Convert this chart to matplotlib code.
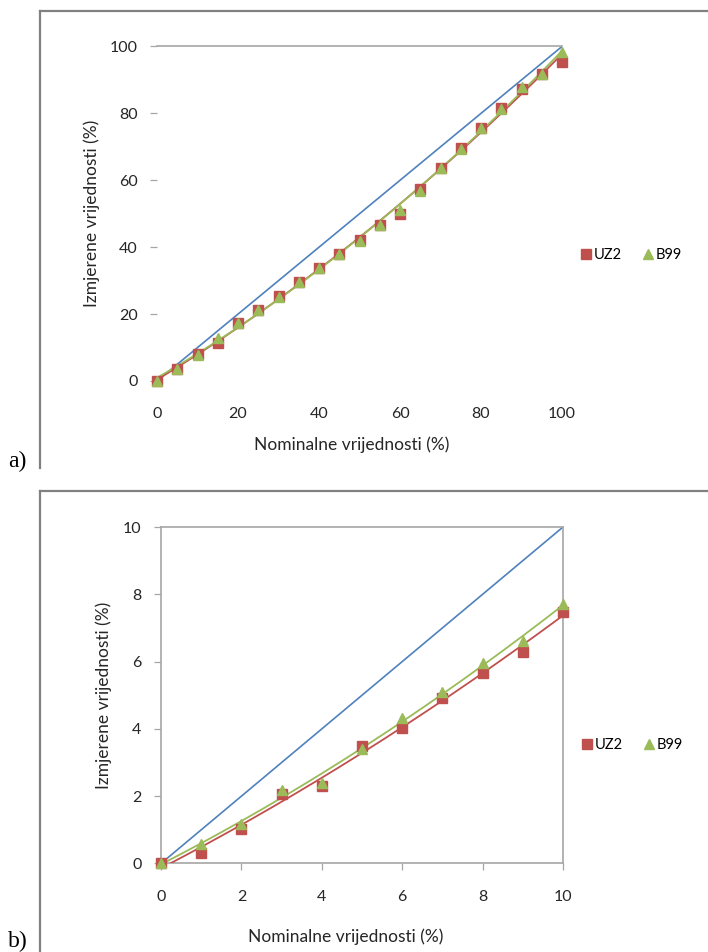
import numpy as np
import matplotlib
matplotlib.use("Agg")
import matplotlib.pyplot as plt
from matplotlib.lines import Line2D

# Measurements over the full range (0-100 %)
nominal_full = [0, 5, 10, 15, 20, 25, 30, 35, 40, 45, 50, 55, 60, 65, 70, 75, 80, 85, 90, 95, 100]
uz2_full = [0.0, 3.5, 8.0, 11.4, 17.4, 21.1, 25.3, 29.6, 33.8, 37.9, 42.0, 46.5, 49.9, 57.4, 63.8, 69.5, 75.7, 81.7, 87.4, 91.9, 95.3]
b99_full = [0.0, 3.6, 7.9, 13.0, 17.3, 21.2, 25.2, 29.5, 33.7, 38.0, 41.8, 46.6, 51.2, 56.8, 63.7, 69.3, 75.5, 81.3, 87.8, 91.7, 98.3]

# Measurements over the low range (0-10 %)
nominal_low = [0, 1, 2, 3, 4, 5, 6, 7, 8, 9, 10]
uz2_low = [0.0, 0.32, 1.03, 2.05, 2.30, 3.50, 4.03, 4.92, 5.66, 6.30, 7.47]
b99_low = [0.0, 0.59, 1.18, 2.19, 2.40, 3.41, 4.32, 5.09, 5.96, 6.61, 7.72]

full_ticks = [0, 20, 40, 60, 80, 100]
low_ticks = [0, 2, 4, 6, 8, 10]

series_labels = ["UZ2", "B99"]
x_label = "Nominalne vrijednosti (%)"
y_label = "Izmjerene vrijednosti (%)"

BLUE = "#4F81BD"
RED = "#C0504D"
GREEN = "#9BBB59"
AXIS_GRAY = "#A6A6A6"
FRAME_GRAY = "#808080"
TEXT = "#262626"

plt.rcParams["font.family"] = ["Lato", "DejaVu Sans"]

fig = plt.figure(figsize=(7.08, 9.52), dpi=100)


def trend(x, y, deg=2):
    c = np.polyfit(x, y, deg)
    xs = np.linspace(min(x), max(x), 200)
    return xs, np.polyval(c, xs)


def draw_panel(ax, x, uz2, b99, ticks, boxed, legend_y, xpad, ypad, xlabel_x):
    lo, hi = ticks[0], ticks[-1]
    # 1:1 reference line
    ax.plot([lo, hi], [lo, hi], color=BLUE, lw=1.2, zorder=2)
    # fitted trend lines
    xs, ys = trend(x, uz2)
    ax.plot(xs, ys, color=RED, lw=1.3, zorder=3)
    xs, ys = trend(x, b99)
    ax.plot(xs, ys, color=GREEN, lw=1.3, zorder=3)
    # measured points
    ax.plot(x, uz2, ls="none", marker="s", ms=7.0, color=RED, mec=RED,
            zorder=4, clip_on=False)
    ax.plot(x, b99, ls="none", marker="^", ms=7.4, color=GREEN, mec=GREEN,
            zorder=5, clip_on=False)

    ax.set_xlim(lo, hi)
    ax.set_ylim(lo, hi)
    ax.set_xticks(ticks)
    ax.set_yticks(ticks)
    ax.tick_params(labelsize=11.5, colors=TEXT, length=5, width=0.9,
                   color=AXIS_GRAY)
    ax.tick_params(axis="y", pad=9)
    ax.tick_params(axis="x", pad=14)
    for s in ax.spines.values():
        s.set_color(AXIS_GRAY)
        s.set_linewidth(1.2)
    if not boxed:
        ax.spines["left"].set_visible(False)
        ax.spines["bottom"].set_visible(False)
        ax.spines["right"].set_visible(False)
        ax.tick_params(axis="x", length=0, pad=19)
    ax.set_xlabel(x_label, fontsize=12.5, color=TEXT, labelpad=xpad)
    ax.xaxis.label.set_x(xlabel_x)
    ax.set_ylabel(y_label, fontsize=12.5, color=TEXT, labelpad=ypad)

    handles = [
        Line2D([], [], ls="none", marker="s", ms=7, color=RED),
        Line2D([], [], ls="none", marker="^", ms=7, color=GREEN),
    ]
    ax.legend(handles, series_labels, loc="center left",
              bbox_to_anchor=(1.035, legend_y), ncol=2, frameon=False,
              fontsize=10.5, handlelength=0.6, handletextpad=0.2,
              columnspacing=1.5, borderaxespad=0.0)


ax_top = fig.add_axes([0.2218, 0.5998, 0.5720, 0.3514])
draw_panel(ax_top, nominal_full, uz2_full, b99_full, full_ticks,
           boxed=False, legend_y=0.377, xpad=11, ypad=7, xlabel_x=0.48)

ax_bot = fig.add_axes([0.2274, 0.0930, 0.5678, 0.3534])
draw_panel(ax_bot, nominal_low, uz2_low, b99_low, low_ticks,
           boxed=True, legend_y=0.352, xpad=18, ypad=8, xlabel_x=0.46)

# picture frames around each panel
W, H = 708, 952


def fx(px):
    return px / W


def fy(py):
    return 1 - py / H


for top_y, bottom_y in [(11, 468), (491, 952)]:
    fig.add_artist(Line2D([fx(40), fx(40)], [fy(top_y), fy(bottom_y)],
                          color=FRAME_GRAY, lw=1.6))
    fig.add_artist(Line2D([fx(40), 1.0], [fy(top_y), fy(top_y)],
                          color=FRAME_GRAY, lw=1.6))

fig.text(fx(8), fy(461), "a)", family="Liberation Serif", fontsize=17,
         va="center", ha="left", color="black")
fig.text(fx(8), fy(941), "b)", family="Liberation Serif", fontsize=17,
         va="center", ha="left", color="black")

fig.savefig("out.png", dpi=100, facecolor="white")
